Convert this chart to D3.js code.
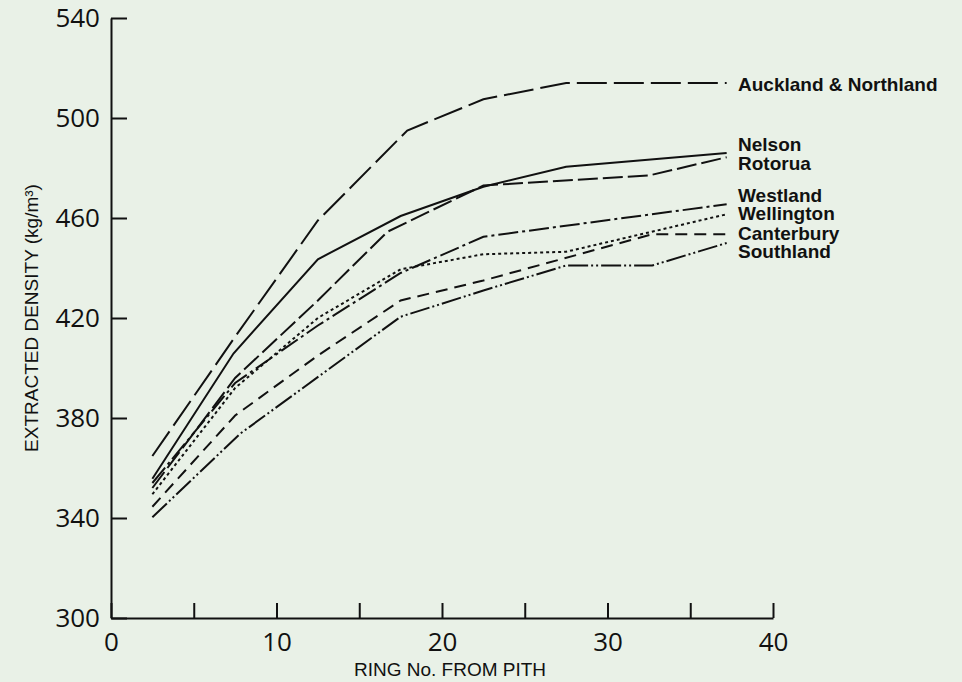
<!DOCTYPE html>
<html lang="en">
<head>
  <meta charset="UTF-8">
  <title>Extracted density by ring number</title>
  <script src="https://cdnjs.cloudflare.com/ajax/libs/d3/7.8.5/d3.min.js"></script>
  <style>
    html, body { margin: 0; padding: 0; background: #e9f1e7; }
    svg { display: block; }
    .tick text { font-family: "Open Sans", sans-serif; font-size: 26px; fill: #111; }
    .label { font-family: "Liberation Sans", Arial, sans-serif; font-weight: bold; font-size: 19px; fill: #111; }
    .title { font-family: "Liberation Sans", Arial, sans-serif; font-size: 19px; fill: #111; }
  </style>
</head>
<body>
  <svg width="962" height="682"></svg>
  <script>
    // regions, in label order (top to bottom)
    const regions = ["Auckland & Northland", "Nelson", "Rotorua", "Westland", "Wellington", "Canterbury", "Southland"];

    // [ring no., density kg/m3]
    const auckland   = [[2.5, 364.8], [7.5, 412.5], [12.5, 459], [17.9, 495], [22.5, 507.5], [27.5, 514], [37.2, 514]];
    const nelson     = [[2.5, 355.7], [7.4, 405.8], [12.5, 443.5], [17.5, 460.8], [22.5, 472.5], [27.5, 480.5], [37.2, 486]];
    const rotorua    = [[2.5, 352], [7.5, 396], [12.5, 427], [16.7, 454.5], [22.5, 473], [32.5, 477], [37.2, 484.3]];
    const westland   = [[2.5, 354], [7.5, 394], [12.5, 417], [17.5, 438], [22.5, 452.5], [37.2, 465.5]];
    const wellington = [[2.5, 349.5], [7.5, 392], [12.5, 420], [17.5, 439.5], [22.5, 445.5], [27.5, 446.5], [37.2, 461.5]];
    const canterbury = [[2.5, 344.5], [7.5, 381], [12.5, 405], [17.5, 427], [22.5, 435], [32.7, 453.5], [37.2, 453.5]];
    const southland  = [[2.5, 340.3], [7.8, 373.7], [17.5, 420.5], [22.5, 431], [27.5, 441], [32.7, 441], [37.2, 450]];

    const seriesData = [auckland, nelson, rotorua, westland, wellington, canterbury, southland];

    // density value at which each region's name is written
    const labelValues = [513.4, 489.4, 482.1, 469.1, 462.0, 454.0, 446.7];

    const yTicks = [300, 340, 380, 420, 460, 500, 540];
    const xTicks = [0, 5, 10, 15, 20, 25, 30, 35, 40];
    const xTickLabels = [0, 10, 20, 30, 40];

    // line styles per region
    const dashes = {
      "Auckland & Northland": "30 7",
      "Nelson": null,
      "Rotorua": "20 5",
      "Westland": "20 4 3 4",
      "Wellington": "3 3",
      "Canterbury": "12 7",
      "Southland": "20 3 2 3 2 3"
    };

    const svg = d3.select("svg");

    const x = d3.scaleLinear().domain([0, 40]).range([111, 773]);
    const y = d3.scaleLinear().domain([300, 540]).range([618, 18]);

    // y axis, ticks pointing into the plot
    const yAxis = svg.append("g")
      .attr("transform", `translate(${x(0)},0)`)
      .call(d3.axisLeft(y).tickValues(yTicks).tickSize(-16).tickSizeOuter(0).tickPadding(11));

    // x axis
    const xAxis = svg.append("g")
      .attr("transform", `translate(0,${y(300)})`)
      .call(d3.axisBottom(x).tickValues(xTicks).tickSize(-15).tickSizeOuter(0).tickPadding(15)
        .tickFormat(d => xTickLabels.includes(d) ? d : ""));

    svg.selectAll(".domain, .tick line")
      .attr("stroke", "#111")
      .attr("stroke-width", 2);

    // lines
    const line = d3.line().x(d => x(d[0])).y(d => y(d[1]));

    svg.append("g")
      .selectAll("path")
      .data(seriesData)
      .enter().append("path")
      .attr("d", line)
      .attr("fill", "none")
      .attr("stroke", "#111")
      .attr("stroke-width", 2)
      .attr("stroke-dasharray", (d, i) => dashes[regions[i]]);

    // region names
    svg.append("g")
      .selectAll("text")
      .data(regions)
      .enter().append("text")
      .attr("class", "label")
      .attr("x", 738)
      .attr("y", (d, i) => y(labelValues[i]))
      .attr("dy", "0.36em")
      .text(d => d);

    // axis titles
    svg.append("text")
      .attr("class", "title")
      .attr("x", 450)
      .attr("y", 676)
      .attr("text-anchor", "middle")
      .text("RING No. FROM PITH");

    svg.append("text")
      .attr("class", "title")
      .attr("transform", `translate(38,${(y(300) + y(540)) / 2}) rotate(-90)`)
      .attr("text-anchor", "middle")
      .text("EXTRACTED DENSITY (kg/m³)");
  </script>
</body>
</html>
